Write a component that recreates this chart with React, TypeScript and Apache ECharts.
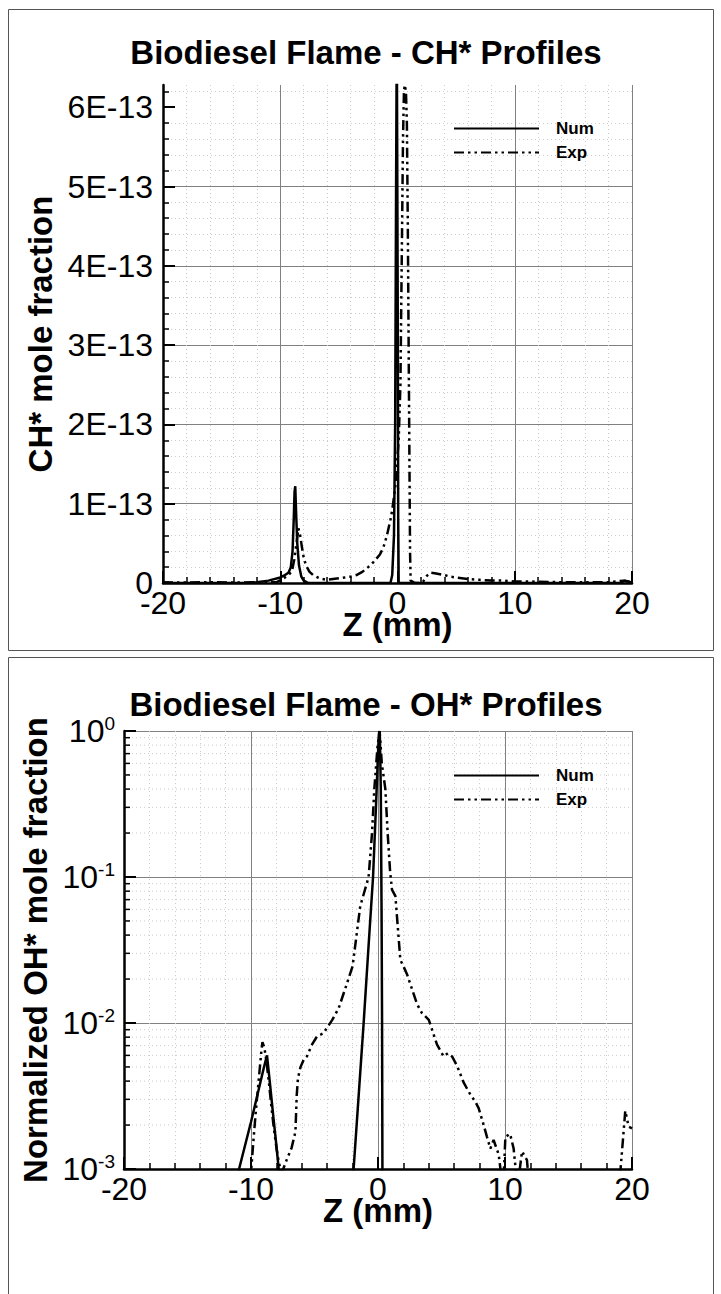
import React, { useEffect, useRef } from 'react';
import * as echarts from 'echarts';

const FONT = "'Liberation Sans', Arial, Helvetica, sans-serif";

// CH* profiles (values in units of 1E-13 mole fraction)
const chZNum = [-20, -15, -13, -12.5, -12, -11, -10, -9.6, -9.3, -9.1, -8.95, -8.85, -8.78, -8.72, -8.65, -8.55, -8.4, -8.2, -8, -7.6, -5, -1, -0.6, -0.45, -0.3, -0.2, -0.12, -0.06, 0, 0.03, 0.06, 0.1, 1, 5, 10, 15, 19, 19.4, 19.7, 20];
const chNumE13 = [0, 0, 0, 0.005, 0.01, 0.03, 0.07, 0.1, 0.13, 0.2, 0.4, 0.8, 1.15, 1.22, 0.9, 0.5, 0.22, 0.08, 0.03, 0, 0, 0, 0, 0.1, 0.6, 2.0, 5.0, 7.0, 7.0, 3.0, 0.8, 0, 0, 0, 0, 0, 0, 0.03, 0.02, 0];
const chZExp = [-20, -18, -16, -14, -12, -10.8, -10.3, -9.8, -9.3, -9, -8.8, -8.6, -8.45, -8.3, -8.15, -8, -7.8, -7.5, -7.2, -6.8, -6.4, -6, -5.5, -5, -4.5, -4, -3.5, -3, -2.5, -2, -1.5, -1.2, -0.9, -0.6, -0.45, -0.2, 0.1, 0.25, 0.32, 0.4, 0.47, 0.55, 0.62, 0.72, 0.8, 0.88, 0.95, 1.02, 1.07, 1.12, 1.5, 2, 2.2, 2.5, 2.8, 3.3, 4, 4.5, 5, 6, 7, 8, 9, 10, 11, 12, 14, 16, 18, 19.3, 19.6, 20];
const chExpE13 = [0.01, 0.005, 0.01, 0.005, 0.01, 0.01, 0.01, 0.05, 0.1, 0.15, 0.3, 0.52, 0.69, 0.6, 0.45, 0.32, 0.22, 0.14, 0.1, 0.07, 0.05, 0.04, 0.05, 0.06, 0.07, 0.08, 0.1, 0.14, 0.2, 0.27, 0.36, 0.45, 0.6, 0.8, 0.92, 1.2, 1.8, 2.5, 3.5, 4.6, 5.6, 6.2, 6.28, 6.2, 5.8, 4.5, 3.0, 1.5, 0.4, 0.03, 0, 0, 0.02, 0.09, 0.13, 0.12, 0.1, 0.08, 0.07, 0.05, 0.04, 0.03, 0.03, 0.02, 0.02, 0.015, 0.01, 0.01, 0.01, 0.03, 0.02, 0.01];

// OH* profiles (normalized)
const ohZNum = [-20, -11.2, -10.94, -10, -9.5, -9, -8.74, -8.5, -8.2, -8, -7.82, -7.6, -2.2, -1.92, -1.5, -1.13, -0.76, -0.39, -0.15, 0.05, 0.1, 0.15, 0.22, 0.28, 0.32, 0.36, 20];
const ohNum = [0.0003, 0.0003, 0.001, 0.0021, 0.0032, 0.0049, 0.006, 0.0038, 0.0021, 0.00145, 0.001, 0.0006, 0.0004, 0.001, 0.0034, 0.01, 0.032, 0.1, 0.32, 0.9, 1.0, 0.9, 0.4, 0.06, 0.01, 0.0004, 0.0003];
const ohZExp = [-20, -10.1, -9.98, -9.8, -9.6, -9.4, -9.2, -9.1, -8.95, -8.8, -8.6, -8.4, -8.2, -8, -7.8, -7.6, -7.5, -7.2, -6.8, -6.5, -6.4, -6.3, -6.1, -5.85, -5.6, -5.2, -4.8, -4.3, -3.6, -3.1, -2.45, -2, -1.4, -0.74, -0.47, -0.29, -0.03, 0.13, 0.3, 0.58, 0.76, 0.95, 1.1, 1.37, 1.76, 2, 2.3, 3.07, 3.46, 4, 4.65, 5.17, 5.5, 5.83, 6.22, 6.75, 7.3, 7.66, 7.93, 8.32, 8.58, 8.85, 9.1, 9.5, 9.78, 9.9, 10.03, 10.4, 10.68, 10.95, 11.1, 11.34, 11.73, 12, 12.3, 19, 19.1, 19.47, 19.74, 20];
const ohExp = [0.0003, 0.0003, 0.001, 0.0016, 0.0026, 0.004, 0.0062, 0.0074, 0.0068, 0.0056, 0.004, 0.0027, 0.0019, 0.0014, 0.0011, 0.00095, 0.00098, 0.00115, 0.0014, 0.0018, 0.0032, 0.0042, 0.005, 0.0056, 0.0059, 0.0071, 0.0081, 0.0085, 0.0105, 0.0126, 0.0186, 0.0245, 0.063, 0.1, 0.2, 0.4, 0.8, 1.0, 0.6, 0.4, 0.2, 0.11, 0.082, 0.074, 0.027, 0.0245, 0.0214, 0.0135, 0.0117, 0.0105, 0.0071, 0.0059, 0.0062, 0.0059, 0.0051, 0.0039, 0.0032, 0.0029, 0.0026, 0.002, 0.00166, 0.00138, 0.00158, 0.00126, 0.0008, 0.0009, 0.00166, 0.00174, 0.00138, 0.0008, 0.0009, 0.00132, 0.00115, 0.0006, 0.0003, 0.0003, 0.001, 0.0025, 0.00195, 0.0019];

// tick positions
const chMajorTicks = [0, 1e-13, 2e-13, 3e-13, 4e-13, 5e-13, 6e-13];
const ohMinor = [0.002, 0.003, 0.004, 0.005, 0.006, 0.007, 0.008, 0.009, 0.02, 0.03, 0.04, 0.05, 0.06, 0.07, 0.08, 0.09, 0.2, 0.3, 0.4, 0.5, 0.6, 0.7, 0.8, 0.9];

const titles = ['Biodiesel Flame - CH* Profiles', 'Biodiesel Flame - OH* Profiles'];

const zip = (xs: number[], ys: number[], k = 1) => xs.map((x, i) => [x, ys[i] * k]);

const EXP_DASH = [10, 4, 2.5, 4, 2.5, 4];
const TICK_FS = 32;
const NAME_FS = 33;

function mkX(gridIndex: number, nameGap: number) {
  return {
    gridIndex,
    type: 'value',
    min: -20,
    max: 20,
    interval: 10,
    name: 'Z (mm)',
    nameLocation: 'middle',
    nameGap,
    nameMoveOverlap: false,
    nameTextStyle: { fontFamily: FONT, fontSize: NAME_FS, fontWeight: 'bold', color: '#000' },
    axisLine: { onZero: false, lineStyle: { color: '#000', width: 2.5 } },
    axisTick: { inside: true, length: 12, lineStyle: { color: '#000', width: 2 } },
    minorTick: { show: true, splitNumber: 5, length: 6, lineStyle: { color: '#000', width: 1.5 } },
    splitLine: { show: true, lineStyle: { color: '#808080', width: 1 } },
    minorSplitLine: { show: true, lineStyle: { color: '#cccccc', width: 1, type: [1, 3] } },
    axisLabel: { fontFamily: FONT, fontSize: TICK_FS, color: '#000', margin: 4 },
  };
}

const lineSeries = (name: string, data: number[][], idx: number, dash: any) => ({
  name,
  type: 'line',
  xAxisIndex: idx,
  yAxisIndex: idx,
  data,
  symbol: 'none',
  showSymbol: false,
  clip: true,
  z: 5,
  itemStyle: { color: '#000' },
  lineStyle: { color: '#000', width: 2.5, type: dash },
});

export default function App() {
  const ref = useRef<HTMLDivElement>(null);
  useEffect(() => {
    if (!ref.current) return;
    const chart = echarts.init(ref.current, undefined, { renderer: 'svg' });
    const legendBase = {
      orient: 'vertical',
      left: 453,
      itemWidth: 85,
      itemHeight: 14,
      itemGap: 7,
      padding: 0,
      selectedMode: false,
      data: ['Num', 'Exp'],
      itemStyle: { color: 'transparent', borderWidth: 0, opacity: 0 },
      textStyle: { fontFamily: FONT, fontSize: 17, fontWeight: 'bold', color: '#000', padding: [0, 0, 0, 12] },
    };
    chart.setOption({
      animation: false,
      backgroundColor: '#fff',
      title: [
        { text: titles[0], left: 361, top: 31, textAlign: 'center', textStyle: { fontFamily: FONT, fontSize: NAME_FS, fontWeight: 'bold', color: '#000' } },
        { text: titles[1], left: 361, top: 683, textAlign: 'center', textStyle: { fontFamily: FONT, fontSize: NAME_FS, fontWeight: 'bold', color: '#000' } },
      ],
      legend: [
        { ...legendBase, top: 120 },
        { ...legendBase, top: 767 },
      ],
      graphic: [
        { type: 'rect', silent: true, shape: { x: 8.5, y: 9.5, width: 705, height: 641 }, style: { fill: 'none', stroke: '#555', lineWidth: 1 } },
        { type: 'rect', silent: true, shape: { x: 8.5, y: 657.5, width: 705, height: 660 }, style: { fill: 'none', stroke: '#555', lineWidth: 1 } },
      ],
      grid: [
        { left: 163, top: 85, width: 469, height: 498 },
        { left: 124, top: 731, width: 508, height: 438 },
      ],
      xAxis: [mkX(0, 25), mkX(1, 25)],
      yAxis: [
        {
          gridIndex: 0,
          type: 'value',
          min: 0,
          max: 6.28e-13,
          interval: 1e-13,
          name: 'CH* mole fraction',
          nameLocation: 'middle',
          nameRotate: 90,
          nameGap: 99,
          nameTextStyle: { fontFamily: FONT, fontSize: NAME_FS, fontWeight: 'bold', color: '#000' },
          axisLine: { show: true, onZero: false, lineStyle: { color: '#000', width: 2.5 } },
          axisTick: { inside: true, length: 12, customValues: chMajorTicks, lineStyle: { color: '#000', width: 2 } },
          minorTick: { show: true, splitNumber: 5, length: 6, lineStyle: { color: '#000', width: 1.5 } },
          splitLine: { show: true, showMaxLine: false, lineStyle: { color: '#808080', width: 1 } },
          minorSplitLine: { show: true, lineStyle: { color: '#cccccc', width: 1, type: [1, 3] } },
          axisLabel: {
            fontFamily: FONT,
            fontSize: TICK_FS,
            color: '#000',
            margin: 10,
            formatter: (v: number) => {
              const n = Math.round(v / 1e-13);
              if (Math.abs(v - n * 1e-13) > 1e-15) return '';
              return n === 0 ? '0' : n + 'E-13';
            },
          },
        },
        {
          gridIndex: 1,
          type: 'log',
          logBase: 10,
          min: 0.001,
          max: 1,
          name: 'Normalized OH* mole fraction',
          nameLocation: 'middle',
          nameRotate: 90,
          nameGap: 60,
          nameTextStyle: { fontFamily: FONT, fontSize: NAME_FS, fontWeight: 'bold', color: '#000' },
          axisLine: { show: true, onZero: false, lineStyle: { color: '#000', width: 2.5 } },
          axisTick: { inside: true, length: 12, lineStyle: { color: '#000', width: 2 } },
          minorTick: { show: false },
          splitLine: { show: true, lineStyle: { color: '#808080', width: 1 } },
          minorSplitLine: { show: false },
          axisLabel: {
            color: '#000',
            margin: 9,
            formatter: (v: number) => '{b|10}{s|' + Math.round(Math.log10(v)) + '}',
            rich: {
              b: { fontFamily: FONT, fontSize: TICK_FS, color: '#000', lineHeight: 34 },
              s: { fontFamily: FONT, fontSize: 19, color: '#000', verticalAlign: 'top', lineHeight: 19 },
            },
          },
        },
      ],
      series: [
        {
          name: 'minorLog',
          type: 'custom',
          xAxisIndex: 1,
          yAxisIndex: 1,
          silent: true,
          clip: false,
          z: 1,
          data: ohMinor.map((v) => [-20, v]),
          renderItem: (params: any, api: any) => {
            const v = api.value(1);
            const p0 = api.coord([-20, v]);
            const p1 = api.coord([20, v]);
            return {
              type: 'group',
              children: [
                { type: 'line', shape: { x1: p0[0], y1: p0[1], x2: p1[0], y2: p1[1] }, style: { stroke: '#cccccc', lineWidth: 1, lineDash: [1, 3] } },
                { type: 'line', shape: { x1: p0[0], y1: p0[1], x2: p0[0] + 6, y2: p0[1] }, style: { stroke: '#000', lineWidth: 1.5 } },
              ],
            };
          },
        },
        lineSeries('Num', zip(chZNum, chNumE13, 1e-13), 0, 'solid'),
        lineSeries('Exp', zip(chZExp, chExpE13, 1e-13), 0, EXP_DASH),
        lineSeries('Num', zip(ohZNum, ohNum), 1, 'solid'),
        lineSeries('Exp', zip(ohZExp, ohExp), 1, EXP_DASH),
      ],
    });
    return () => chart.dispose();
  }, []);
  return <div ref={ref} style={{ position: 'absolute', left: 0, top: 0, width: 721, height: 1294 }} />;
}
